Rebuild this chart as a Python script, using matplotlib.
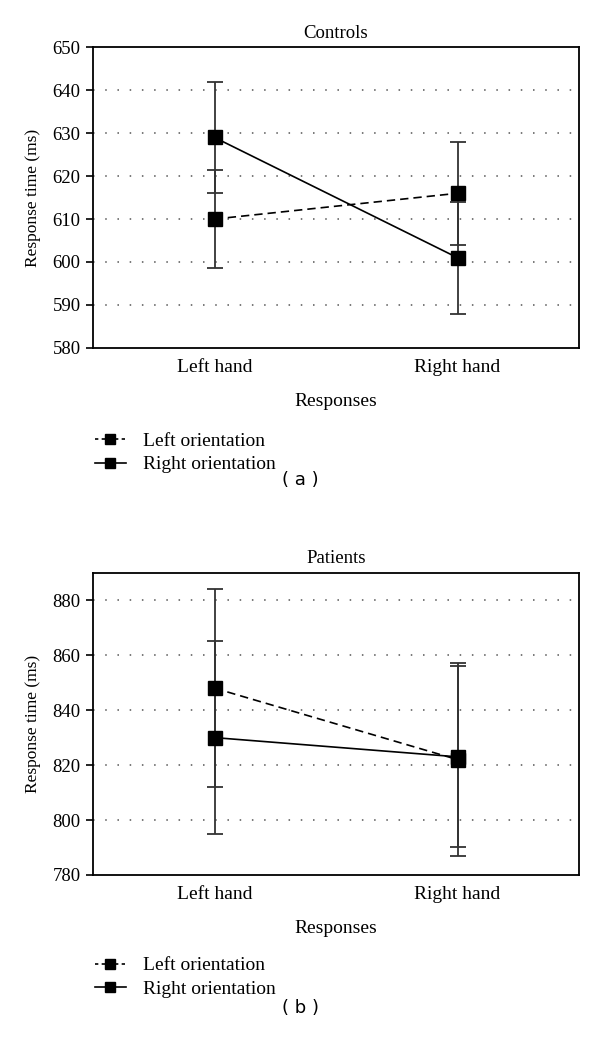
import matplotlib.pyplot as plt
from matplotlib.lines import Line2D

plt.rcParams['font.family'] = ['Liberation Serif', 'DejaVu Serif']

responses = ['Left hand', 'Right hand']
series_names = ['Left orientation', 'Right orientation']

# Controls (a)
ctrl_left = [610, 616]
ctrl_left_err = [11.5, 12]
ctrl_right = [629, 601]
ctrl_right_err = [13, 13]
ctrl_ticks = [580, 590, 600, 610, 620, 630, 640, 650]

# Patients (b)
pat_left = [848, 822]
pat_left_err = [36, 35]
pat_right = [830, 823]
pat_right_err = [35, 33]
pat_ticks = [780, 800, 820, 840, 860, 880]

fig = plt.figure(figsize=(6, 10.51), dpi=100)
ax1 = fig.add_axes([0.155, 0.669, 0.81, 0.286])
ax2 = fig.add_axes([0.155, 0.1675, 0.81, 0.2875])

panels = [
    (ax1, 'Controls', ctrl_left, ctrl_left_err, ctrl_right, ctrl_right_err,
     ctrl_ticks, (580, 650), 0.596, '( a )', 0.543),
    (ax2, 'Patients', pat_left, pat_left_err, pat_right, pat_right_err,
     pat_ticks, (780, 890), 0.097, '( b )', 0.041),
]

x = list(range(len(responses)))
for ax, title, lv, le, rv, re_, ticks, ylim, leg_y, tag, tag_y in panels:
    ax.errorbar(x, lv, yerr=le, color='black', ls=(0, (5, 3)), lw=1.2,
                marker='s', ms=9.5, ecolor='#333333', elinewidth=1.3,
                capsize=5.5, capthick=1.3, label=series_names[0], zorder=3)
    ax.errorbar(x, rv, yerr=re_, color='black', ls='-', lw=1.2,
                marker='s', ms=9.5, ecolor='#333333', elinewidth=1.3,
                capsize=5.5, capthick=1.3, label=series_names[1], zorder=3)
    ax.set_xlim(-0.5, 1.5)
    ax.set_ylim(*ylim)
    ax.set_yticks(ticks)
    ax.set_xticks(x)
    ax.set_xticklabels(responses, fontsize=14)
    ax.tick_params(axis='x', length=0, pad=8)
    ax.tick_params(axis='y', length=5, width=1.2, direction='out', labelsize=13.5, pad=4)
    for t in ticks[1:]:
        if t < ylim[1]:
            ax.axhline(t, color='#555555', lw=1.1, ls=(0, (1, 7)), zorder=1)
    for s in ax.spines.values():
        s.set_linewidth(1.3)
    ax.set_title(title, fontsize=13.5, pad=7)
    ax.set_xlabel('Responses', fontsize=14, labelpad=12)
    ax.set_ylabel('Response time (ms)', fontsize=12.5, labelpad=8)

    handles = [
        Line2D([], [], color='black', ls=(0, (2, 2)), lw=1.2, marker='s', ms=6.5),
        Line2D([], [], color='black', ls='-', lw=1.2, marker='s', ms=6.5),
    ]
    fig.legend(handles, series_names, loc='upper left',
               bbox_to_anchor=(0.145, leg_y), frameon=False, fontsize=14,
               handlelength=1.6, handletextpad=0.9, labelspacing=0.3,
               borderaxespad=0)
    fig.text(0.5, tag_y, tag, ha='center', va='center', fontsize=13,
             family='DejaVu Sans')

fig.savefig('out.png', dpi=100)
